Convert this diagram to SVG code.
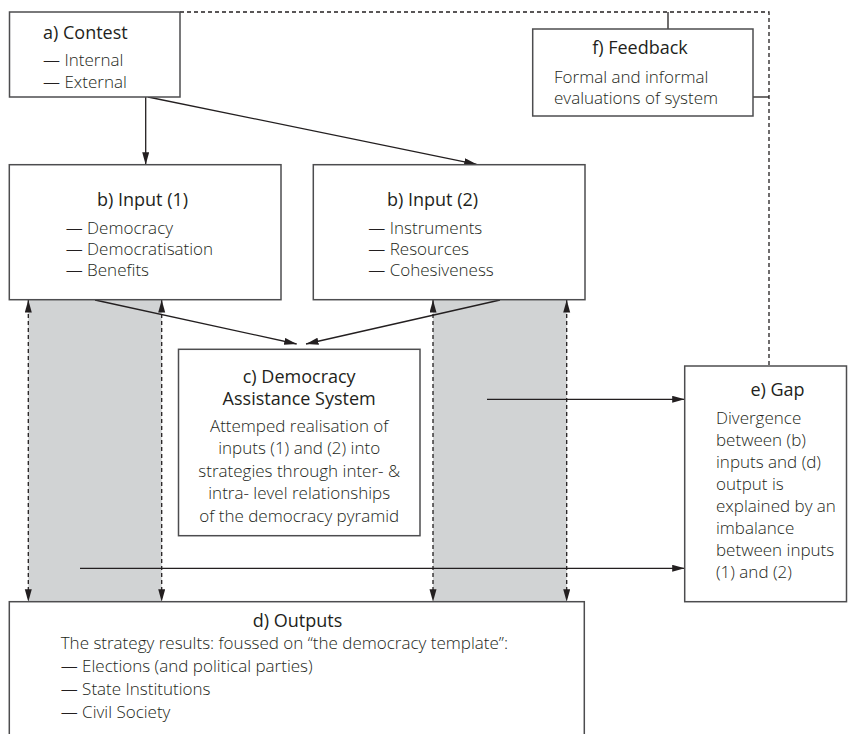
<svg xmlns="http://www.w3.org/2000/svg" width="848" height="734" viewBox="0 0 848 734">
<defs>
<style>
text{font-family:"Open Sans","Liberation Sans",sans-serif;fill:#231f20;font-size:17px;font-weight:300}
.t{font-size:18px;font-weight:400}
.m{text-anchor:middle}
.box{fill:#fff;stroke:#4d4d4f;stroke-width:1.5}
.band{fill:#d1d3d4;stroke:none}
.ln{stroke:#231f20;stroke-width:1.3;fill:none}
.dl{stroke:#231f20;stroke-width:1.3;fill:none;stroke-dasharray:4 3}
</style>
<marker id="ah" markerUnits="userSpaceOnUse" markerWidth="13" markerHeight="8" refX="12.5" refY="3.5" orient="auto-start-reverse">
<path d="M0,0 L12.5,3.5 L0,7 z" fill="#231f20"/>
</marker>
</defs>
<g id="bands">
<rect class="band" x="28.3" y="300" width="133.4" height="301.7"/>
<rect class="band" x="433" y="300" width="133.7" height="301.7"/>
</g>
<g id="connectors">
<polyline class="dl" points="180,12 769,12 769,366"/>
<line class="ln" x1="668" y1="12" x2="668" y2="29"/>
<line class="ln" x1="753" y1="97" x2="769" y2="97"/>
<line class="ln" x1="145.7" y1="97" x2="145.7" y2="164.7" marker-end="url(#ah)"/>
<line class="ln" x1="148" y1="97" x2="476.7" y2="164.3" marker-end="url(#ah)"/>
<line class="ln" x1="95" y1="300" x2="296.7" y2="344" marker-end="url(#ah)"/>
<line class="ln" x1="500" y1="300" x2="306" y2="344" marker-end="url(#ah)"/>
<line class="dl" x1="28.3" y1="300" x2="28.3" y2="601.7" marker-start="url(#ah)" marker-end="url(#ah)"/>
<line class="dl" x1="161.7" y1="300" x2="161.7" y2="601.7" marker-start="url(#ah)" marker-end="url(#ah)"/>
<line class="dl" x1="433" y1="300" x2="433" y2="601.7" marker-start="url(#ah)" marker-end="url(#ah)"/>
<line class="dl" x1="566.7" y1="300" x2="566.7" y2="601.7" marker-start="url(#ah)" marker-end="url(#ah)"/>
<line class="ln" x1="487" y1="399.3" x2="684.7" y2="399.3" marker-end="url(#ah)"/>
<line class="ln" x1="80" y1="568.3" x2="684.7" y2="568.3" marker-end="url(#ah)"/>
</g>
<g id="contest">
<rect class="box" x="9.5" y="12" width="170.5" height="85"/>
<text class="t" x="43" y="38.5">a) Contest</text>
<text x="43" y="65.5">— Internal</text>
<text x="43" y="87.5">— External</text>
</g>
<g id="feedback">
<rect class="box" x="532.7" y="29" width="220.3" height="87"/>
<text class="t m" x="640" y="53.5">f) Feedback</text>
<text x="554" y="82.5">Formal and informal</text>
<text x="554" y="104">evaluations of system</text>
</g>
<g id="input1">
<rect class="box" x="9.3" y="164.7" width="271.7" height="135"/>
<text class="t m" x="142.5" y="205.5">b) Input (1)</text>
<text x="65.7" y="233.7">— Democracy</text>
<text x="65.7" y="255">— Democratisation</text>
<text x="65.7" y="276.3">— Benefits</text>
</g>
<g id="input2">
<rect class="box" x="313.3" y="164.7" width="271.7" height="135"/>
<text class="t m" x="432.5" y="205.5">b) Input (2)</text>
<text x="368.3" y="233.7">— Instruments</text>
<text x="368.3" y="255">— Resources</text>
<text x="368.3" y="276.3">— Cohesiveness</text>
</g>
<g id="system">
<rect class="box" x="178.5" y="349.3" width="241.5" height="186.4"/>
<text class="t m" x="299.2" y="383.3">c) Democracy</text>
<text class="t m" x="299.2" y="405">Assistance System</text>
<text class="m" x="299.2" y="431.7">Attemped realisation of</text>
<text class="m" x="299.2" y="454.2">inputs (1) and (2) into</text>
<text class="m" x="299.2" y="476.7">strategies through inter- &amp;</text>
<text class="m" x="299.2" y="499.2">intra- level relationships</text>
<text class="m" x="299.2" y="521.7">of the democracy pyramid</text>
</g>
<g id="gap">
<rect class="box" x="684.7" y="366" width="161.8" height="235.7"/>
<text class="t m" x="777.5" y="395.5">e) Gap</text>
<text x="716" y="423.5">Divergence</text>
<text x="716" y="445.6">between (b)</text>
<text x="716" y="467.7">inputs and (d)</text>
<text x="716" y="489.8">output is</text>
<text x="716" y="511.9">explained by an</text>
<text x="716" y="534">imbalance</text>
<text x="716" y="556.1">between inputs</text>
<text x="716" y="578.2">(1) and (2)</text>
</g>
<g id="outputs">
<rect class="box" x="9.3" y="601.7" width="575" height="150"/>
<text class="t m" x="297.5" y="626.7">d) Outputs</text>
<text x="60.7" y="649">The strategy results: foussed on “the democracy template”:</text>
<text x="60.7" y="672">— Elections (and political parties)</text>
<text x="60.7" y="695">— State Institutions</text>
<text x="60.7" y="718">— Civil Society</text>
</g>
</svg>
